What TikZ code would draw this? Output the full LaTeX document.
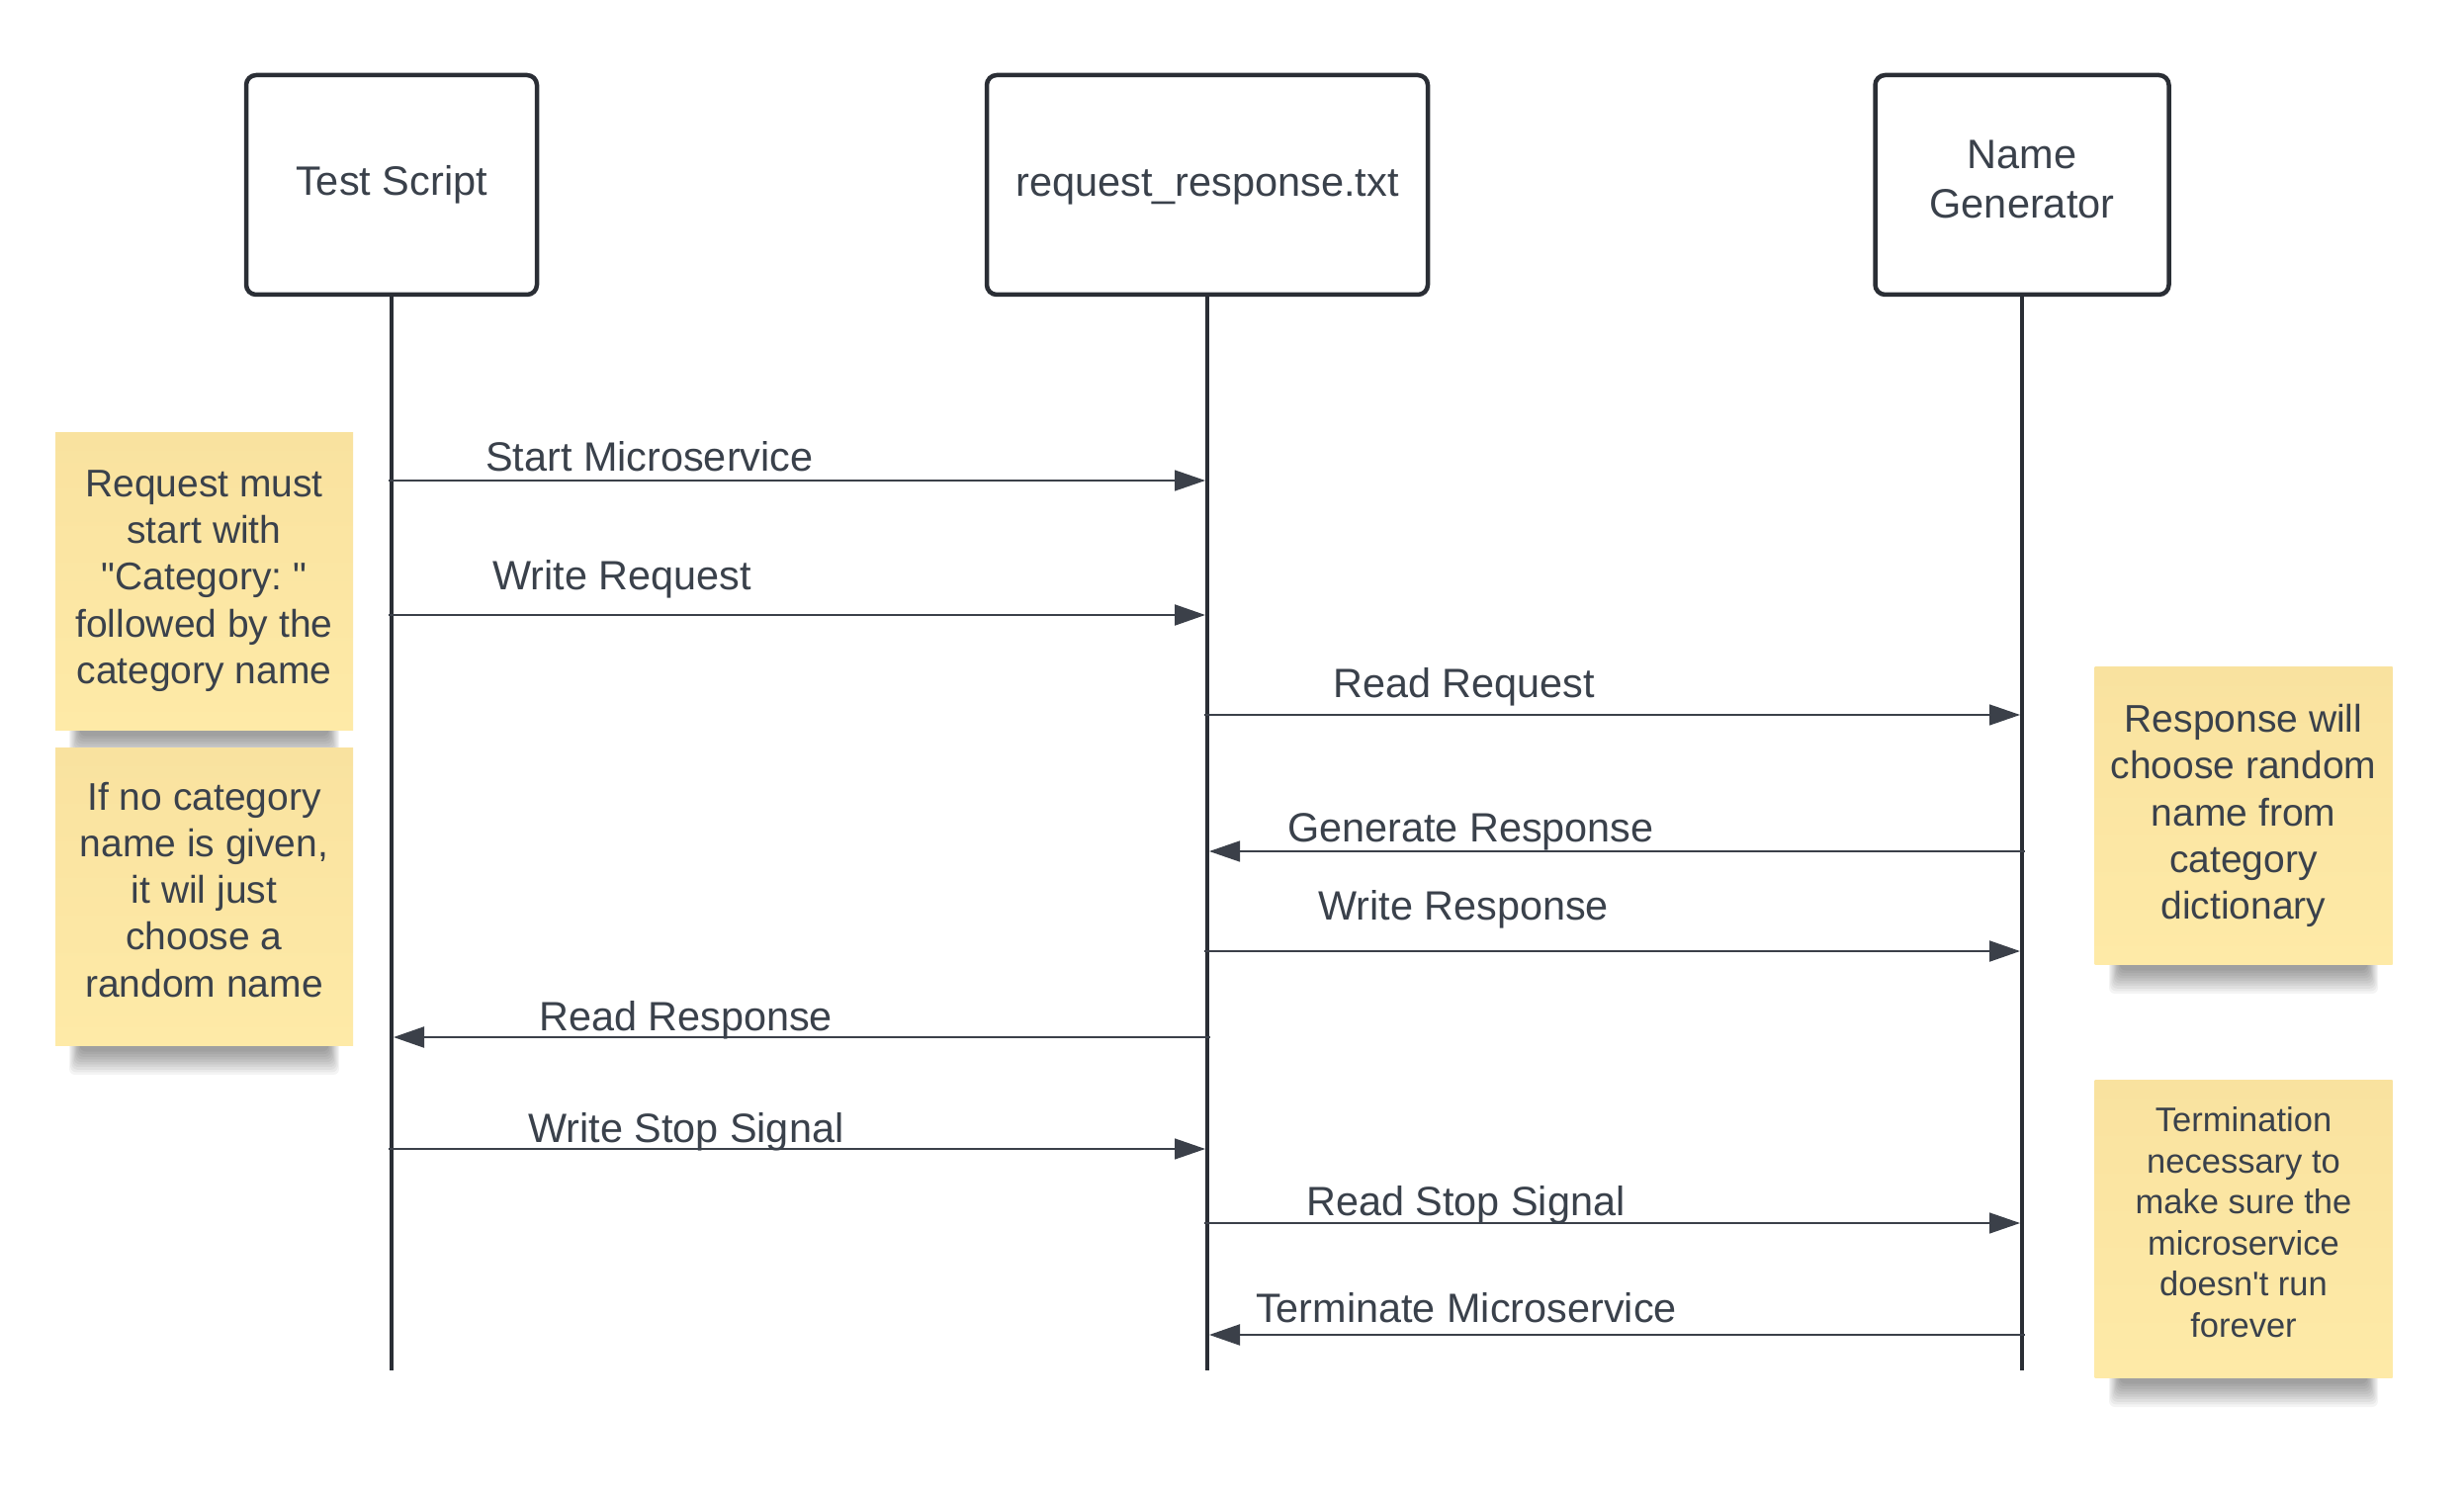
\documentclass[tikz,border=0pt]{standalone}
\usepackage{fontspec}
\newfontfamily\diag{Liberation Sans}
\usetikzlibrary{arrows.meta,calc}
\definecolor{ink}{HTML}{3A414B}
\definecolor{edge}{HTML}{2A2E35}
\definecolor{msgc}{HTML}{3B4049}
\definecolor{notetop}{HTML}{F9E29F}
\definecolor{notebot}{HTML}{FEEAA7}
\newcommand\stickyshadow[3]{%
  \foreach \k in {0,...,9}{%
    \fill[black,opacity=0.045,rounded corners=6pt] ({#1+14+1.2*\k},{#3-6}) rectangle ({#2-14-1.2*\k},{#3+30-2.6*\k});
  }}
\begin{document}
\begin{tikzpicture}[x=1pt,y=-1pt,
  actor/.style={draw=edge,line width=4.5pt,rounded corners=10pt,fill=white,text=ink,
    font=\diag\fontsize{41.5}{50.5}\selectfont,align=center,minimum width=#1,minimum height=222pt,inner sep=0pt},
  life/.style={draw=edge,line width=4pt},
  msg/.style={draw=msgc,line width=1.4pt,-{Triangle[length=31pt,width=21pt]},shorten >=2pt,shorten <=-3pt},
  msgb/.style={msg,line width=2.2pt},
  lab/.style={anchor=base west,text=ink,font=\diag\fontsize{41.4}{48}\selectfont,inner sep=0pt},
  note/.style={top color=notetop,bottom color=notebot,draw=none,text=ink,align=center,
    inner sep=0pt,minimum width=301pt,minimum height=301pt,font=\diag\fontsize{39}{47.3}\selectfont},
  notesmall/.style={note,font=\diag\fontsize{34.5}{41.6}\selectfont},
]
\useasboundingbox[fill=white] (0,0) rectangle (2492,1511);

% actors
\node[actor=294pt] (ts) at (396,187) {Test Script};
\node[actor=446pt,text depth=4pt] (rr) at (1221,187) {request\_response.txt};
\node[actor=297pt,text depth=12pt] (ng) at (2045,187) {Name\\Generator};

% lifelines
\coordinate (bottom) at (0,1386);
\draw[life] (ts.south) -- (ts.south |- bottom);
\draw[life] (rr.south) -- (rr.south |- bottom);
\draw[life] (ng.south) -- (ng.south |- bottom);

% message rows
\coordinate (y1) at (0,486);
\coordinate (y2) at (0,622);
\coordinate (y3) at (0,723);
\coordinate (y4) at (0,861);
\coordinate (y5) at (0,962);
\coordinate (y6) at (0,1049);
\coordinate (y7) at (0,1162);
\coordinate (y8) at (0,1237);
\coordinate (y9) at (0,1350);

\draw[msg]  (ts.south |- y1) -- (rr.south |- y1);
\draw[msgb] (ts.south |- y2) -- (rr.south |- y2);
\draw[msg]  (rr.south |- y3) -- (ng.south |- y3);
\draw[msg]  (ng.south |- y4) -- (rr.south |- y4);
\draw[msgb] (rr.south |- y5) -- (ng.south |- y5);
\draw[msgb] (rr.south |- y6) -- (ts.south |- y6);
\draw[msg]  (ts.south |- y7) -- (rr.south |- y7);
\draw[msg]  (rr.south |- y8) -- (ng.south |- y8);
\draw[msgb] (ng.south |- y9) -- (rr.south |- y9);

% labels
\node[lab] (l1) at (491,476) {Start Microservice};
\node[lab] (l2) at (498,596) {Write Request};
\node[lab] (l3) at (1348,705) {Read Request};
\node[lab] (l4) at (1302,851) {Generate Response};
\node[lab] (l5) at (1333,930) {Write Response};
\node[lab] (l6) at (545,1042) {Read Response};
\node[lab] (l7) at (534,1155) {Write Stop Signal};
\node[lab] (l8) at (1321,1229) {Read Stop Signal};
\node[lab] (l9) at (1270,1337) {Terminate Microservice};

% sticky notes
\stickyshadow{56}{357}{738}
\stickyshadow{56}{357}{1057}
\stickyshadow{2119}{2419}{975}
\stickyshadow{2119}{2419}{1393}
\node[note] (n1) at (206.5,587.5) {Request must\\start with\\"Category:\ "\\followed by the\\category name};
\node[note,text depth=14pt] (n2) at (206.5,906.5) {If no category\\name is given,\\it wil just\\choose a\\random name};
\node[note] (n3) at (2269,825) {Response will\\choose random\\name from\\category\\dictionary};
\node[notesmall,text depth=14pt] (n4) at (2269,1243) {Termination\\necessary to\\make sure the\\microservice\\doesn't run\\forever};
\end{tikzpicture}
\end{document}
